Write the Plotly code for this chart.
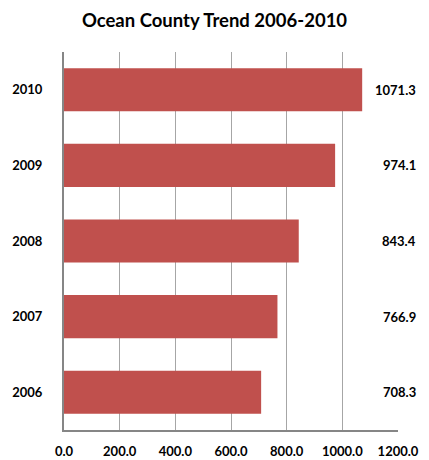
import plotly.graph_objects as go

years = ["2006", "2007", "2008", "2009", "2010"]
values = [708.3, 766.9, 843.4, 974.1, 1071.3]
value_labels = ["708.3", "766.9", "843.4", "974.1", "1071.3"]
x_ticks = [0, 200, 400, 600, 800, 1000, 1200]
x_tick_labels = ["0.0", "200.0", "400.0", "600.0", "800.0", "1000.0", "1200.0"]

font = "Lato"

fig = go.Figure()
fig.add_trace(go.Bar(
    x=values, y=years, orientation="h",
    marker=dict(color="#C0504D", line=dict(width=0)),
    width=0.57,
))

# data labels sit in a column right of the plot (y = category index)
for i, t in enumerate(value_labels):
    fig.add_annotation(x=1.06, xref="paper", y=i, yref="y", text="<b>" + t + "</b>",
                       showarrow=False, xanchor="right",
                       font=dict(family=font, size=13, color="#000000"))

fig.update_layout(
    width=429, height=460,
    margin=dict(l=64, r=31, t=52, b=30, autoexpand=False),
    paper_bgcolor="white", plot_bgcolor="white",
    showlegend=False,
    title=dict(text="<b>Ocean County Trend 2006-2010</b>", x=0.5, xanchor="center",
               y=0.955, yanchor="middle",
               font=dict(family=font, size=18.5, color="#000000")),
    xaxis=dict(range=[0, 1200], tickvals=x_ticks,
               ticktext=["<b>" + t + "</b>" for t in x_tick_labels],
               showgrid=True, gridcolor="#A6A6A6", gridwidth=1,
               zeroline=False, showline=True, linecolor="#868686", linewidth=2,
               ticks="", ticklabelstandoff=8, automargin=False,
               tickfont=dict(family=font, size=13, color="#000000")),
    yaxis=dict(type="category", categoryorder="array", categoryarray=years,
               range=[-0.5, len(years) - 0.5],
               tickvals=years, ticktext=["<b>" + y + "</b>" for y in years],
               showgrid=False, zeroline=False, showline=True, linecolor="#868686",
               linewidth=2, ticks="", ticklabelstandoff=17, automargin=False,
               tickfont=dict(family=font, size=13, color="#000000")),
)

fig.write_html("out.html", config={"displayModeBar": False},
               post_script="document.body.style.margin='0';")
